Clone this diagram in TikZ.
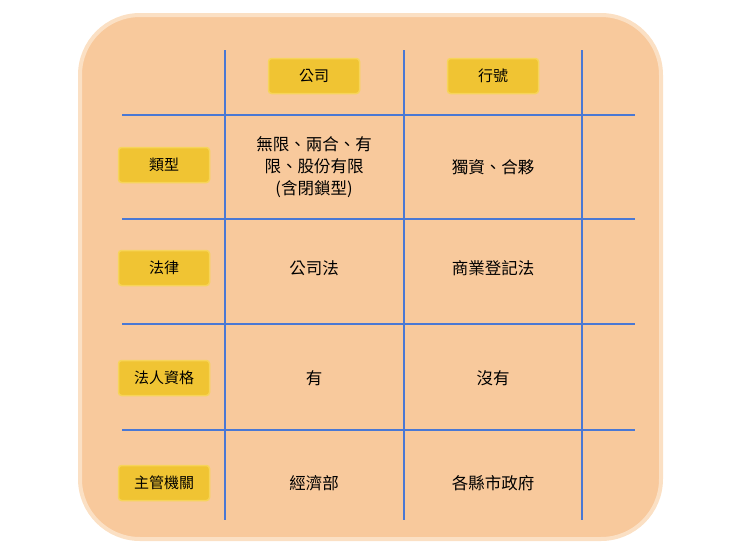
\documentclass[tikz,border=0pt]{standalone}
\usepackage{fontspec}
\setmainfont{Noto Sans CJK TC}
\begin{document}
\begin{tikzpicture}[x=1pt,y=-1pt,
  lab/.style={draw=labb,line width=1.5pt,fill=laby,rounded corners=3pt,minimum width=91pt,minimum height=35pt,font=\fontsize{15}{17}\selectfont},
  cell/.style={align=center,font=\fontsize{16.5}{22}\selectfont},
  grid/.style={draw=gridb,line width=1.6pt}]
\definecolor{bg}{HTML}{F8C99C}
\definecolor{bgb}{HTML}{FBE0C4}
\definecolor{laby}{HTML}{F0C433}
\definecolor{labb}{HTML}{F7D45A}
\definecolor{gridb}{HTML}{4A78D4}
\useasboundingbox (0,0) rectangle (740,555);
\draw[fill=bg,draw=bgb,line width=4pt,rounded corners=60pt] (80,15) rectangle (661,539);
\foreach \x in {225,404,582} \draw[grid] (\x,50) -- (\x,520);
\foreach \y in {115,219,324,430} \draw[grid] (122,\y) -- (635,\y);
\node[lab] (h1) at (314,76) {公司};
\node[lab] (h2) at (493,76) {行號};
\node[lab] (r1) at (164,165) {類型};
\node[lab] (r2) at (164,268) {法律};
\node[lab] (r3) at (164,378) {法人資格};
\node[lab] (r4) at (164,483) {主管機關};
\node[cell] (c11) at (314,167) {無限、兩合、有\\限、股份有限\\(含閉鎖型)};
\node[cell] (c12) at (493,167) {獨資、合夥};
\node[cell] (c21) at (314,268) {公司法};
\node[cell] (c22) at (493,268) {商業登記法};
\node[cell] (c31) at (314,378) {有};
\node[cell] (c32) at (493,378) {沒有};
\node[cell] (c41) at (314,483) {經濟部};
\node[cell] (c42) at (493,483) {各縣市政府};
\end{tikzpicture}
\end{document}
